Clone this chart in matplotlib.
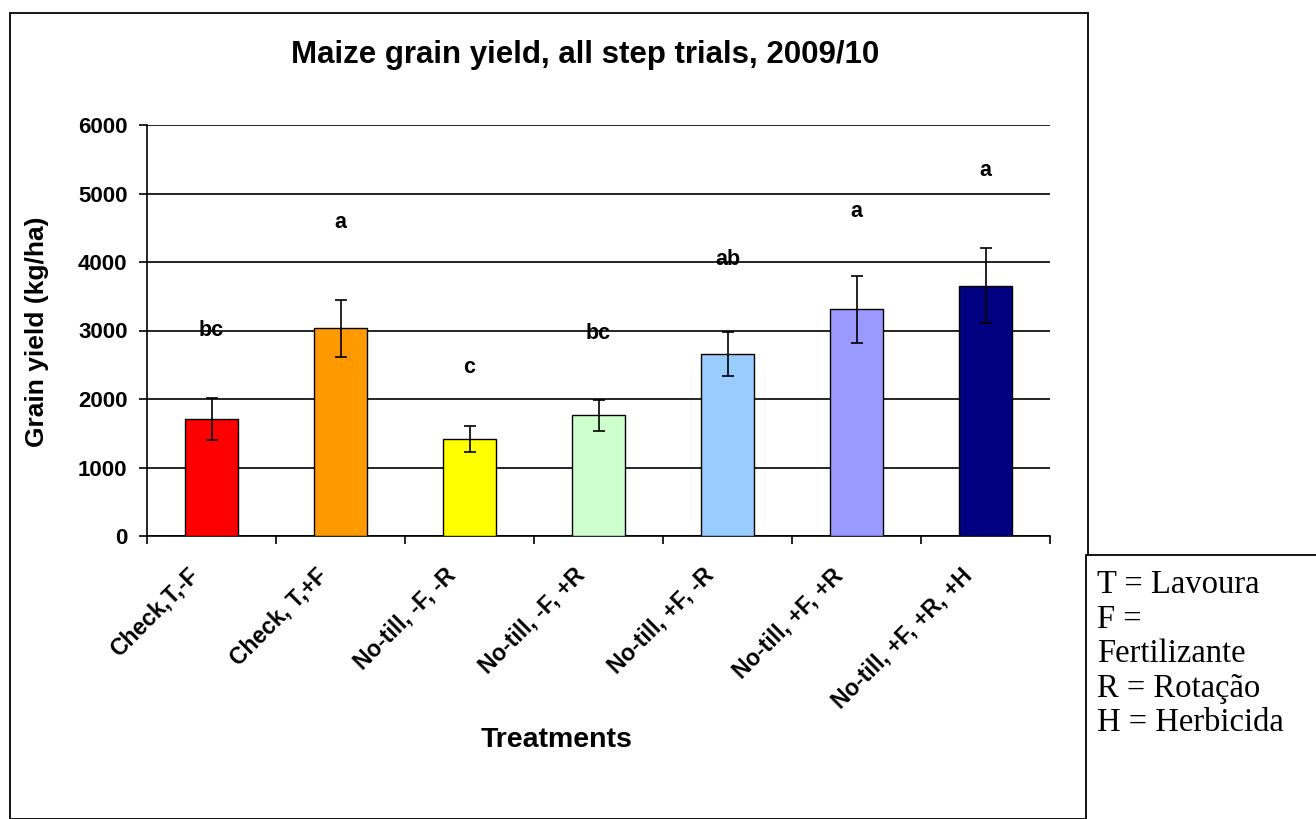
import matplotlib
matplotlib.use("Agg")
import matplotlib.pyplot as plt
import matplotlib.patches as patches
import matplotlib.transforms as mtransforms

# ================================
# DATA
# ================================
treatments = ["Check,T,-F", "Check, T,+F", "No-till, -F, -R", "No-till, -F, +R",
              "No-till, +F, -R", "No-till, +F, +R", "No-till, +F, +R, +H"]
yield_kg = [1710, 3030, 1415, 1760, 2660, 3310, 3655]
yield_err = [310, 410, 190, 220, 320, 490, 550]
letters = ["bc", "a", "c", "bc", "ab", "a", "a"]
letter_y = [3000, 4580, 2460, 2960, 4030, 4740, 5340]
bar_colors = ["#FF0000", "#FF9900", "#FFFF00", "#CCFFCC", "#99CCFF", "#9999FF", "#000080"]
y_ticks = [0, 1000, 2000, 3000, 4000, 5000, 6000]
legend_lines = ["T = Lavoura", "F =", "Fertilizante", "R = Rotação", "H = Herbicida"]

W, H = 1316, 819
plt.rcParams["font.family"] = ["Liberation Sans", "DejaVu Sans"]
fig = plt.figure(figsize=(W / 100, H / 100), dpi=100)
fig.patch.set_facecolor("white")

# outer chart frame and legend box (figure pixels)
fig.patches.append(patches.Rectangle((10 / W, 0), 1078 / W, (H - 13) / H, transform=fig.transFigure,
                                     fill=False, edgecolor="black", linewidth=1.3))
fig.patches.append(patches.Rectangle((1086 / W, -0.01), 240 / W, (H - 555) / H + 0.01,
                                     transform=fig.transFigure, facecolor="white",
                                     edgecolor="black", linewidth=1.3, zorder=5))

ax = fig.add_axes([147 / W, (H - 536) / H, 903 / W, 411 / H])
x = range(len(treatments))
ax.bar(x, yield_kg, width=0.41, color=bar_colors, edgecolor="black", linewidth=1, zorder=3)
ax.errorbar(x, yield_kg, yerr=yield_err, fmt="none", ecolor="black", elinewidth=1.2,
            capsize=4, capthick=1.2, zorder=4)
for i, (lab, ly) in enumerate(zip(letters, letter_y)):
    ax.text(i, ly, lab, ha="center", va="center", fontsize=15.5, fontweight="bold", zorder=5)

ax.set_xlim(-0.5, len(treatments) - 0.5)
ax.set_ylim(0, 6000)
ax.set_yticks(y_ticks)
ax.set_yticklabels([str(v) for v in y_ticks], fontsize=16, fontweight="bold")
ax.yaxis.grid(True, color="black", linewidth=1.2, zorder=1)
ax.set_axisbelow(True)
for s in ["top", "right"]:
    ax.spines[s].set_visible(False)
ax.spines["left"].set_linewidth(1.2)
ax.spines["bottom"].set_linewidth(1.2)
ax.tick_params(axis="y", direction="out", length=6, width=1.2, pad=8)

ax.set_xticks(list(x))
ax.set_xticks([i - 0.5 for i in range(len(treatments) + 1)], minor=True)
ax.tick_params(axis="x", which="major", length=0, pad=20)
ax.tick_params(axis="x", which="minor", direction="out", length=6, width=1.2)
ax.set_xticklabels(treatments, rotation=45, ha="right", va="top", rotation_mode="anchor",
                   fontsize=16.5, fontweight="bold")
offset = mtransforms.ScaledTranslation(-25 / 100, 0, fig.dpi_scale_trans)
for lbl in ax.get_xticklabels():
    lbl.set_transform(lbl.get_transform() + offset)

fig.text(37 / W, 1 - 332 / H, "Grain yield (kg/ha)", ha="center", va="center", rotation=90,
         fontsize=19, fontweight="bold")
fig.text(557 / W, 1 - 740 / H, "Treatments", ha="center", va="center",
         fontsize=20.5, fontweight="bold")
fig.text(585 / W, 1 - 55 / H, "Maize grain yield, all step trials, 2009/10", ha="center",
         va="center", fontsize=22.5, fontweight="bold")

for k, line in enumerate(legend_lines):
    fig.text(1097 / W, 1 - (585 + 34.5 * k) / H, line, ha="left", va="center", fontsize=23.5,
             family=["Liberation Serif", "DejaVu Serif"], zorder=6)

fig.savefig("out.png", dpi=100, facecolor="white")
